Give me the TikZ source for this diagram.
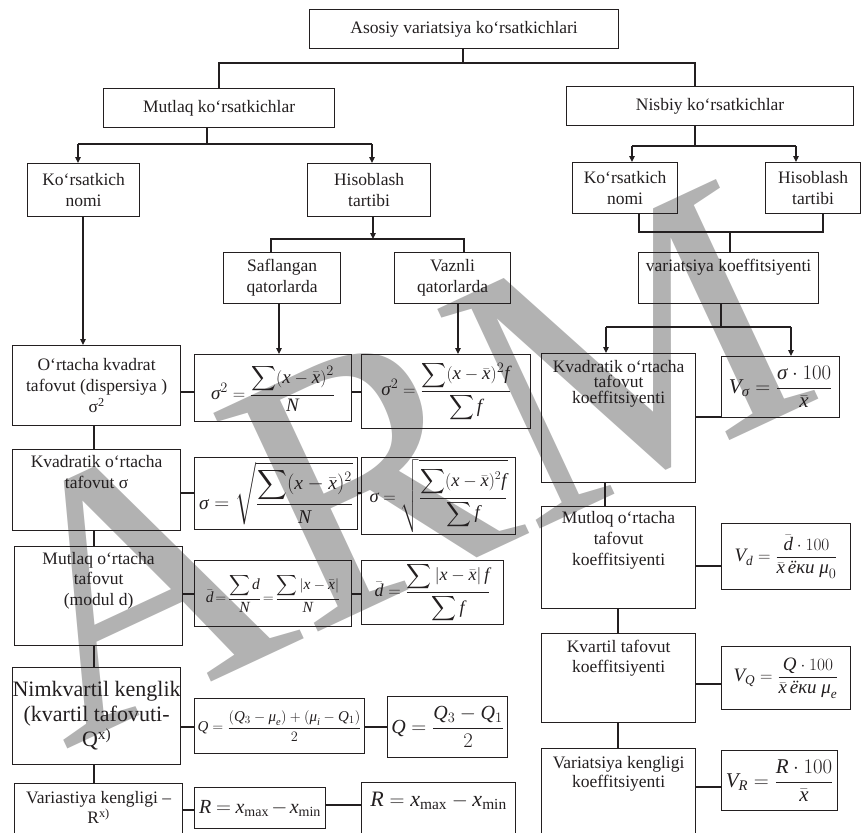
\documentclass[tikz,border=0pt]{standalone}
\usepackage{amsmath}
\usepackage{fontspec}
\setmainfont{Liberation Serif}
% italic Latin letters in formulas come from the serif text face
\DeclareSymbolFont{letters}{TU}{\rmdefault}{m}{it}
\newcommand\gsig{\mathord{\text{\itshape σ}}}
\newcommand\gmu{\mathord{\text{\itshape μ}}}
\newcommand\tighteq{\mkern-3mu=\mkern-3mu}
\usetikzlibrary{arrows.meta}

\definecolor{ink}{HTML}{231F20}
\definecolor{mark}{RGB}{178,178,178}
\newcommand\fsnorm{\fontsize{17.5}{21}\selectfont}
\newcommand\fsbig{\fontsize{22}{25}\selectfont}
\newcommand\fsf[1]{\fontsize{#1}{#1}\selectfont}

\tikzset{
  box/.style={draw=ink, line width=1.2pt, rectangle, anchor=north west,
              inner sep=0pt, align=center, font=\fsnorm, text=ink},
  txt/.style={inner sep=0pt, align=center, font=\fsnorm, text=ink, anchor=north},
  wire/.style={draw=ink, line width=1.1pt},
  arr/.style={wire, -{Triangle[length=6pt,width=5.5pt]}},
}

\begin{document}
\begin{tikzpicture}[x=1pt, y=-1pt]
\useasboundingbox (0,0) rectangle (863,833);
\clip (0,0) rectangle (863,833);

% background watermark
\node[text=mark, font=\fontsize{370}{370}\selectfont, rotate=25, inner sep=0pt] (wm) at (395,462) {ARM};

% ---------- upper tree ----------
\node[box, minimum width=309, minimum height=39] (top) at (309,9) {Asosiy variatsiya ko‘rsatkichlari};
\node[box, minimum width=231, minimum height=39] (mutlaq) at (103,88) {Mutlaq ko‘rsatkichlar};
\node[box, minimum width=287, minimum height=39] (nisbiy) at (566,86) {Nisbiy ko‘rsatkichlar};
\node[box, minimum width=112, minimum height=53] (kn1) at (27,163) {Ko‘rsatkich\\nomi};
\node[box, minimum width=123, minimum height=53] (ht1) at (307,163) {Hisoblash\\tartibi};
\node[box, minimum width=105, minimum height=51] (kn2) at (572,162) {Ko‘rsatkich\\nomi};
\node[box, minimum width=95, minimum height=51] (ht2) at (765,162) {Hisoblash\\tartibi};
\node[box, minimum width=117, minimum height=51] (saf) at (223,252) {Saflangan\\qatorlarda};
\node[box, minimum width=116, minimum height=51] (vaz) at (394,252) {Vaznli\\qatorlarda};
\node[box, minimum width=180, minimum height=51] (vk) at (638,252) {};
\node[txt] (vkt) at ([yshift=-7]vk.north) {variatsiya koeffitsiyenti};

% junctions
\coordinate (j0) at (463,63);
\coordinate (j0l) at (219,63);
\coordinate (j0r) at (695,63);
\draw[wire] (top.south -| j0) -- (j0);
\draw[wire] (j0l |- mutlaq.north) -- (j0l) -- (j0r) -- (j0r |- nisbiy.north);

\coordinate (j1) at (207,144);
\coordinate (j1l) at (78,144);
\coordinate (j1r) at (372,144);
\draw[wire] (mutlaq.south -| j1) -- (j1);
\draw[wire] (j1l) -- (j1r);
\draw[arr] (j1l) -- (j1l |- kn1.north);
\draw[arr] (j1r) -- (j1r |- ht1.north);

\coordinate (j2) at (695,146);
\coordinate (j2l) at (632,146);
\coordinate (j2r) at (796,146);
\draw[wire] (nisbiy.south -| j2) -- (j2);
\draw[wire] (j2l) -- (j2r);
\draw[arr] (j2l) -- (j2l |- kn2.north);
\draw[arr] (j2r) -- (j2r |- ht2.north);

\coordinate (j3) at (373,239);
\coordinate (j3l) at (271,239);
\coordinate (j3r) at (464,239);
\draw[arr] (ht1.south -| j3) -- (j3);
\draw[wire] (j3l |- saf.north) -- (j3l) -- (j3r) -- (j3r |- vaz.north);

\coordinate (j4l) at (639,232);
\coordinate (j4r) at (823,232);
\coordinate (j4) at (730,232);
\draw[wire] (kn2.south -| j4l) -- (j4l) -- (j4r) -- (ht2.south -| j4r);
\draw[wire] (j4) -- (vk.north -| j4);

% ---------- left column ----------
\node[box, minimum width=168, minimum height=80] (L1) at (12,345) {O‘rtacha kvadrat\\tafovut (dispersiya )\\σ\textsuperscript{2}};
\node[box, minimum width=168, minimum height=81] (L2) at (12,449) {};
\node[txt] (L2t) at ([yshift=-6]L2.north) {Kvadratik o‘rtacha\\tafovut σ};
\node[box, minimum width=168, minimum height=99] (L3) at (14,546) {};
\node[txt, font=\fontsize{17.5}{20.5}\selectfont] (L3t) at ([yshift=-6]L3.north) {Mutlaq o‘rtacha\\tafovut\\(modul d)};
\node[box, minimum width=168, minimum height=97, font=\fsbig] (L4) at (12,667) {Nimkvartil kenglik\\(kvartil tafovuti-\\Q\textsuperscript{x)}};
\node[box, minimum width=168, minimum height=70] (L5) at (14,783) {};
\node[txt, font=\fontsize{17.5}{20}\selectfont] (L5t) at ([yshift=-8]L5.north) {Variastiya kengligi –\\R\textsuperscript{x)}};

\coordinate (cL) at (94,0);
\draw[wire] (L1.south -| cL) -- (L2.north -| cL);
\draw[wire] (L2.south -| cL) -- (L3.north -| cL);
\draw[wire] (L3.south -| cL) -- (L4.north -| cL);
\draw[wire] (L4.south -| cL) -- (L5.north -| cL);
\coordinate (a1) at (83,0);
\draw[arr] (kn1.south -| a1) -- (L1.north -| a1);

% ---------- formulas ----------
\node[box, minimum width=157, minimum height=67, font=\fsf{19}] (F1a) at (194,354)
  {$\displaystyle\gsig^2=\frac{\displaystyle\sum(x-\bar{x})^2}{N}$};
\node[box, minimum width=169, minimum height=74, font=\fsf{19}] (F1b) at (361,354)
  {$\displaystyle\gsig^2=\frac{\displaystyle\sum(x-\bar{x})^2 f}{\displaystyle\sum f}$};
\node[box, minimum width=163, minimum height=72, font=\fsf{19.5}] (F2a) at (194,457)
  {$\displaystyle\gsig=\sqrt{\frac{\displaystyle\sum(x-\bar{x})^2}{N}}$};
\node[box, minimum width=154, minimum height=77, font=\fsf{18.5}] (F2b) at (361,457)
  {$\displaystyle\gsig=\sqrt{\frac{\displaystyle\sum(x-\bar{x})^2 f}{\displaystyle\sum f}}$};
\node[box, minimum width=157, minimum height=66, font=\fsf{15.5}] (F3a) at (194,560)
  {$\displaystyle\bar{d}\tighteq\frac{\displaystyle\sum d}{N}\tighteq\frac{\displaystyle\sum\left|x-\bar{x}\right|}{N}$};
\node[box, minimum width=142, minimum height=64, font=\fsf{18}] (F3b) at (361,560)
  {$\displaystyle\bar{d}=\frac{\displaystyle\sum\left|x-\bar{x}\right| f}{\displaystyle\sum f}$};
\node[box, minimum width=170, minimum height=55, font=\fsf{15}] (F4a) at (194,698)
  {$\displaystyle Q=\frac{(Q_3-\gmu_e)+(\gmu_i-Q_1)}{2}$};
\node[box, minimum width=120, minimum height=61, font=\fsf{20}] (F4b) at (387,696)
  {$\displaystyle Q=\frac{Q_3-Q_1}{2}$};
\node[box, minimum width=131, minimum height=41, font=\fsf{20}] (F5a) at (194,787)
  {$R\mkern-1mu=\mkern-1mu x_{\max}\mkern-2mu-\mkern-2mu x_{\min}$};
\node[box, minimum width=154, minimum height=70] (F5b) at (361,782) {};
\node[txt, font=\fsf{22}] (F5bt) at ([yshift=-10]F5b.north) {$R=x_{\max}-x_{\min}$};

\coordinate (a2) at (279,0);
\coordinate (a3) at (458,0);
\draw[arr] (saf.south -| a2) -- (F1a.north -| a2);
\draw[arr] (vaz.south -| a3) -- (F1b.north -| a3);

\coordinate (h1) at (0,392);
\coordinate (h2) at (0,493);
\coordinate (h3) at (0,594);
\coordinate (h4) at (0,727);
\coordinate (h5) at (0,810);
\coordinate (h6) at (0,805);
\draw[wire] (L1.east |- h1) -- (F1a.west |- h1);
\draw[wire] (F1a.east |- h1) -- (F1b.west |- h1);
\draw[wire] (L2.east |- h2) -- (F2a.west |- h2);
\draw[wire] (F2a.east |- h2) -- (F2b.west |- h2);
\draw[wire] (L3.east |- h3) -- (F3a.west |- h3);
\draw[wire] (F3a.east |- h3) -- (F3b.west |- h3);
\draw[wire] (L4.east |- h4) -- (F4a.west |- h4);
\draw[wire] (F4a.east |- h4) -- (F4b.west |- h4);
\draw[wire] (L5.east |- h5) -- (F5a.west |- h5);
\draw[wire] (F5a.east |- h6) -- (F5b.west |- h6);

% ---------- right column ----------
\node[box, minimum width=154, minimum height=129] (R1) at (541,353) {};
\node[txt, font=\fontsize{17.5}{15.5}\selectfont] (R1t) at ([yshift=-7]R1.north) {Kvadratik o‘rtacha\\tafovut\\koeffitsiyenti};
\node[box, minimum width=154, minimum height=102] (R2) at (541,506) {};
\node[txt] (R2t) at ([yshift=-5]R2.north) {Mutloq o‘rtacha\\tafovut\\koeffitsiyenti};
\node[box, minimum width=154, minimum height=89] (R3) at (541,633) {};
\node[txt, font=\fontsize{17.5}{20}\selectfont] (R3t) at ([yshift=-7]R3.north) {Kvartil tafovut\\koeffitsiyenti};
\node[box, minimum width=154, minimum height=110] (R4) at (541,748) {};
\node[txt, font=\fontsize{17.5}{19}\selectfont] (R4t) at ([yshift=-8]R4.north) {Variatsiya kengligi\\koeffitsiyenti};

\node[box, minimum width=118, minimum height=61, font=\fsf{21}] (RF1) at (721,356)
  {$V_{\gsig}=\dfrac{\gsig\cdot 100}{\bar{x}}$};
\node[box, minimum width=129, minimum height=66, font=\fsf{19}] (RF2) at (721,523)
  {$V_d=\dfrac{\bar{d}\cdot 100}{\bar{x}\,\text{\itshape ёки}\ \gmu_0}$};
\node[box, minimum width=129, minimum height=63, font=\fsf{19}] (RF3) at (721,646)
  {$V_Q=\dfrac{Q\cdot 100}{\bar{x}\,\text{\itshape ёки}\ \gmu_e}$};
\node[box, minimum width=116, minimum height=60, font=\fsf{21}] (RF4) at (721,750)
  {$V_R=\dfrac{R\cdot 100}{\bar{x}}$};

\coordinate (j5) at (721,327);
\coordinate (j5l) at (606,327);
\coordinate (j5r) at (791,327);
\draw[wire] (vk.south -| j5) -- (j5);
\draw[wire] (j5l) -- (j5r);
\draw[arr] (j5l) -- (j5l |- R1.north);
\draw[arr] (j5r) -- (j5r |- RF1.north);

\coordinate (v1) at (605,0);
\coordinate (v2) at (618,0);
\draw[wire] (R1.south -| v1) -- (R2.north -| v1);
\draw[wire] (R2.south -| v2) -- (R3.north -| v2);
\draw[wire] (R3.south -| v2) -- (R4.north -| v2);

\coordinate (g1) at (0,417);
\coordinate (g2) at (0,566);
\coordinate (g3) at (0,684);
\coordinate (g4) at (0,787);
\draw[wire] (R1.east |- g1) -- (RF1.west |- g1);
\draw[wire] (R2.east |- g2) -- (RF2.west |- g2);
\draw[wire] (R3.east |- g3) -- (RF3.west |- g3);
\draw[wire] (R4.east |- g4) -- (RF4.west |- g4);

\end{tikzpicture}
\end{document}
